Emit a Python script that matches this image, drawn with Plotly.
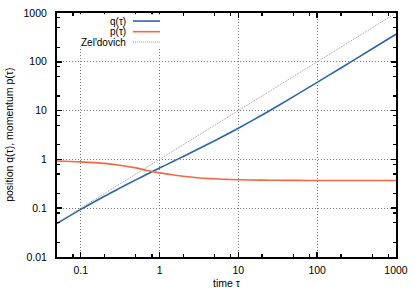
import plotly.graph_objects as go

# --- data ---
tau = [0.05, 0.1, 0.2, 0.3, 0.5, 0.7, 1, 1.5, 2, 3, 5, 7, 10, 20, 30, 50, 100, 200, 500, 1000]
q_vals = [0.0485, 0.0944, 0.176, 0.249, 0.381, 0.50, 0.665, 0.916, 1.15, 1.59, 2.42, 3.21, 4.36,
          8.13, 11.86, 19.3, 37.9, 74.8, 185, 368]
p_vals = [0.93, 0.89, 0.83, 0.77, 0.67, 0.59, 0.53, 0.48, 0.45, 0.42, 0.40, 0.39, 0.383,
          0.376, 0.373, 0.371, 0.37, 0.37, 0.37, 0.37]
zel_tau = [0.05, 1000]
zel_q = [0.05, 1000]

x_ticks = [0.1, 1, 10, 100, 1000]
x_ticklabels = ["0.1", "1", "10", "100", "1000"]
y_ticks = [0.01, 0.1, 1, 10, 100, 1000]
y_ticklabels = ["0.01", "0.1", "1", "10", "100", "1000"]
minor_x = [m * 10.0 ** e for e in range(-2, 3) for m in (2, 5, 8)]
minor_y = [m * 10.0 ** e for e in range(-2, 3) for m in (2, 5, 8)]

labels = ["q(τ)", "p(τ)", "Zel'dovich"]
x_title = "time τ"
y_title = "position q(τ), momentum p(τ)"
BLUE = "#2d64a5"
RED = "#f4673f"
GREY = "#9a9a9a"
FONT = "Liberation Sans, Arial, sans-serif"
FS = 10.5

fig = go.Figure()
fig.add_trace(go.Scatter(x=tau, y=q_vals, mode="lines", line=dict(color=BLUE, width=1.6, shape="spline"),
                         name=labels[0], showlegend=False, hoverinfo="skip"))
fig.add_trace(go.Scatter(x=tau, y=p_vals, mode="lines", line=dict(color=RED, width=1.6, shape="spline"),
                         name=labels[1], showlegend=False, hoverinfo="skip"))
fig.add_trace(go.Scatter(x=zel_tau, y=zel_q, mode="lines", line=dict(color=GREY, width=1, dash="1px,1px"),
                         name=labels[2], showlegend=False, hoverinfo="skip"))

axis_common = dict(
    type="log",
    showline=True, linecolor="black", linewidth=2, mirror="ticks",
    ticks="inside", ticklen=5, tickwidth=1.5, tickcolor="black",
    showgrid=True, gridcolor="#7a7a7a", gridwidth=1, griddash="1px,2px",
    zeroline=False,
    tickfont=dict(family=FONT, size=FS, color="black"),
)

fig.update_xaxes(
    **axis_common,
    range=[-1.30103, 3],
    tickmode="array", tickvals=x_ticks, ticktext=x_ticklabels,
    minor=dict(tickmode="array", tickvals=minor_x, ticks="inside", ticklen=3, tickwidth=1.2,
               tickcolor="black", showgrid=False),
    ticklabelstandoff=2,
)
fig.update_yaxes(
    **axis_common,
    range=[-2, 3],
    tickmode="array", tickvals=y_ticks, ticktext=y_ticklabels,
    minor=dict(tickmode="array", tickvals=minor_y, ticks="inside", ticklen=3, tickwidth=1.2,
               tickcolor="black", showgrid=False),
    ticklabelstandoff=6,
)

# axis titles as annotations
fig.add_annotation(x=0.5, y=-0.107, xref="paper", yref="paper", text=x_title, showarrow=False,
                   xanchor="center", yanchor="middle", font=dict(family=FONT, size=FS, color="black"))
fig.add_annotation(x=-0.142, y=0.5, xref="paper", yref="paper", text=y_title, showarrow=False,
                   textangle=-90, xanchor="center", yanchor="middle",
                   font=dict(family=FONT, size=FS, color="black"))

# legend box (opaque), texts right-aligned with samples on the right
fig.add_shape(type="rect", xref="paper", yref="paper", x0=0.05, x1=0.32, y0=0.862, y1=0.995,
              fillcolor="white", line=dict(width=0), layer="above")
ys = [0.967, 0.9235, 0.881]
colors = [BLUE, RED, GREY]
dashes = ["solid", "solid", "1px,1px"]
widths = [1.6, 1.6, 1]
for lab, yy, c, d, w in zip(labels, ys, colors, dashes, widths):
    fig.add_annotation(x=0.206, y=yy, xref="paper", yref="paper", text=lab, showarrow=False,
                       xanchor="right", yanchor="middle", borderpad=0,
                       font=dict(family=FONT, size=10, color="black"))
    fig.add_shape(type="line", xref="paper", yref="paper", x0=0.224, x1=0.304, y0=yy, y1=yy,
                  line=dict(color=c, width=w, dash=d), layer="above")

fig.update_layout(
    width=415, height=291,
    margin=dict(l=57, r=19, t=13, b=34, autoexpand=False),
    paper_bgcolor="white", plot_bgcolor="white",
    font=dict(family=FONT, size=FS, color="black"),
    showlegend=False,
)

fig.write_html("out.html", config={"displayModeBar": False, "staticPlot": True},
               post_script="document.body.style.margin='0';document.body.style.overflow='hidden';")
